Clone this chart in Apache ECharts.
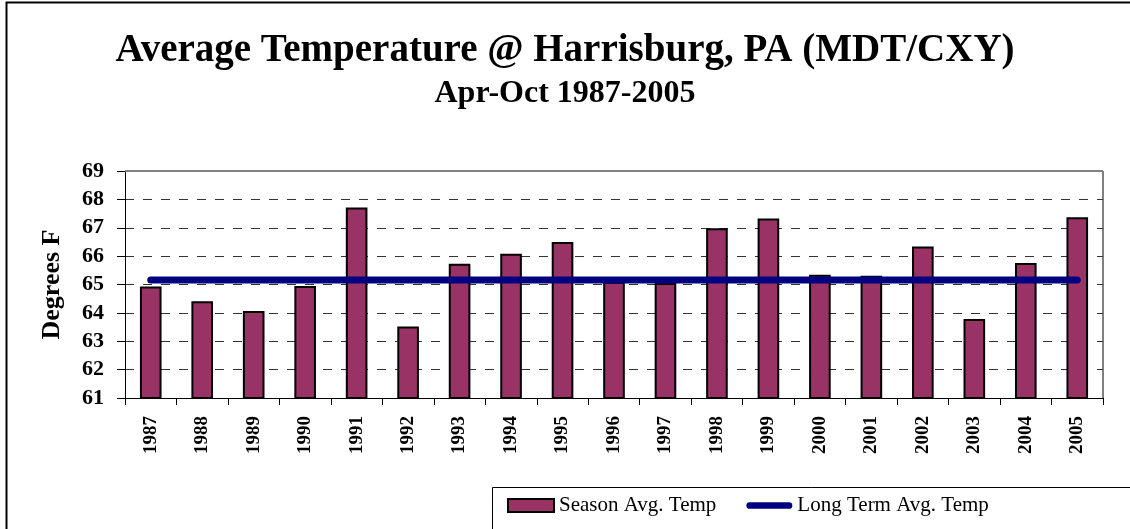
<!DOCTYPE html>
<html>
<head>
<meta charset="utf-8">
<script src="https://cdn.jsdelivr.net/npm/echarts@6/dist/echarts.min.js"></script>
<style>
  html, body { margin: 0; padding: 0; background: #fff; }
  #chart { width: 1130px; height: 529px; }
</style>
</head>
<body>
<div id="chart"></div>
<script>
const years = ['1987', '1988', '1989', '1990', '1991', '1992', '1993', '1994', '1995', '1996',
  '1997', '1998', '1999', '2000', '2001', '2002', '2003', '2004', '2005']
const seasonAvg = [64.93, 64.41, 64.07, 64.95, 67.71, 63.52, 65.73, 66.08, 66.5, 65.1,
  65.05, 66.98, 67.33, 65.34, 65.31, 66.34, 63.78, 65.76, 67.37]
const longTermAvg = years.map(() => 65.16)

const serif = '"Liberation Serif", "Times New Roman", serif'

const chart = echarts.init(document.getElementById('chart'))
chart.setOption({
  animation: false,
  backgroundColor: '#fff',
  textStyle: { fontFamily: serif },
  title: [{
    text: 'Average Temperature @ Harrisburg, PA (MDT/CXY)',
    left: 'center',
    top: 26,
    textStyle: { fontFamily: serif, fontSize: 39, fontWeight: 'bold', color: '#000' }
  }, {
    text: 'Apr-Oct 1987-2005',
    left: 'center',
    top: 73,
    textStyle: { fontFamily: serif, fontSize: 32, fontWeight: 'bold', color: '#000' }
  }],
  graphic: [{
    // outer chart border (left + top visible)
    type: 'rect',
    shape: { x: 6.5, y: 2.5, width: 1200, height: 600 },
    style: { fill: 'none', stroke: '#000', lineWidth: 2 },
    silent: true
  }, {
    // legend box
    type: 'rect',
    shape: { x: 492.5, y: 487.5, width: 700, height: 100 },
    style: { fill: '#fff', stroke: '#000', lineWidth: 1 },
    silent: true,
    z: 5
  }, {
    // right frame of plot area
    type: 'line',
    shape: { x1: 1103, y1: 171, x2: 1103, y2: 398 },
    style: { stroke: '#808080', lineWidth: 2 },
    silent: true
  }],
  legend: {
    left: 492,
    top: 489,
    padding: [6, 15],
    itemGap: 30,
    itemWidth: 46,
    itemHeight: 13,
    z: 10,
    textStyle: { fontFamily: serif, fontSize: 21, color: '#000' },
    data: [
      { name: 'Season Avg. Temp', icon: 'rect' },
      { name: 'Long Term Avg. Temp', icon: 'path://M3.5,0 L44.5,0 A3.5,3.5 0 0 1 44.5,7 L3.5,7 A3.5,3.5 0 0 1 3.5,0 Z' }
    ]
  },
  grid: {
    left: 125,
    right: 27,
    top: 171,
    bottom: 131
  },
  xAxis: {
    type: 'category',
    data: years,
    boundaryGap: true,
    axisLine: { lineStyle: { color: '#000', width: 1 } },
    axisTick: { show: true, length: 7, lineStyle: { color: '#000' } },
    axisLabel: {
      rotate: 90,
      margin: 18,
      fontFamily: serif,
      fontSize: 19,
      fontWeight: 'bold',
      color: '#000'
    }
  },
  yAxis: {
    type: 'value',
    min: 61,
    max: 69,
    interval: 1,
    name: 'Degrees F',
    nameLocation: 'middle',
    nameGap: 60,
    nameTextStyle: { fontFamily: serif, fontSize: 26, fontWeight: 'bold', color: '#000' },
    axisLine: { show: true, lineStyle: { color: '#000', width: 1 } },
    axisTick: { show: true, length: 8, lineStyle: { color: '#000' } },
    axisLabel: {
      margin: 21,
      fontFamily: serif,
      fontSize: 22,
      fontWeight: 'bold',
      color: '#000'
    },
    splitLine: {
      show: true,
      lineStyle: { color: '#333', type: [9, 9], width: 1 }
    }
  },
  series: [{
    name: 'Season Avg. Temp',
    type: 'bar',
    data: seasonAvg,
    barWidth: '42%',
    itemStyle: {
      color: '#993366',
      borderColor: '#000',
      borderWidth: 2
    },
    markLine: {
      silent: true,
      symbol: 'none',
      label: { show: false },
      lineStyle: { color: '#808080', type: 'solid', width: 2 },
      data: [{ yAxis: 69 }]
    }
  }, {
    name: 'Long Term Avg. Temp',
    type: 'line',
    data: longTermAvg,
    symbol: 'none',
    lineStyle: { color: '#000080', width: 7, cap: 'round' },
    itemStyle: { color: '#000080' },
    z: 3
  }]
})
</script>
</body>
</html>
